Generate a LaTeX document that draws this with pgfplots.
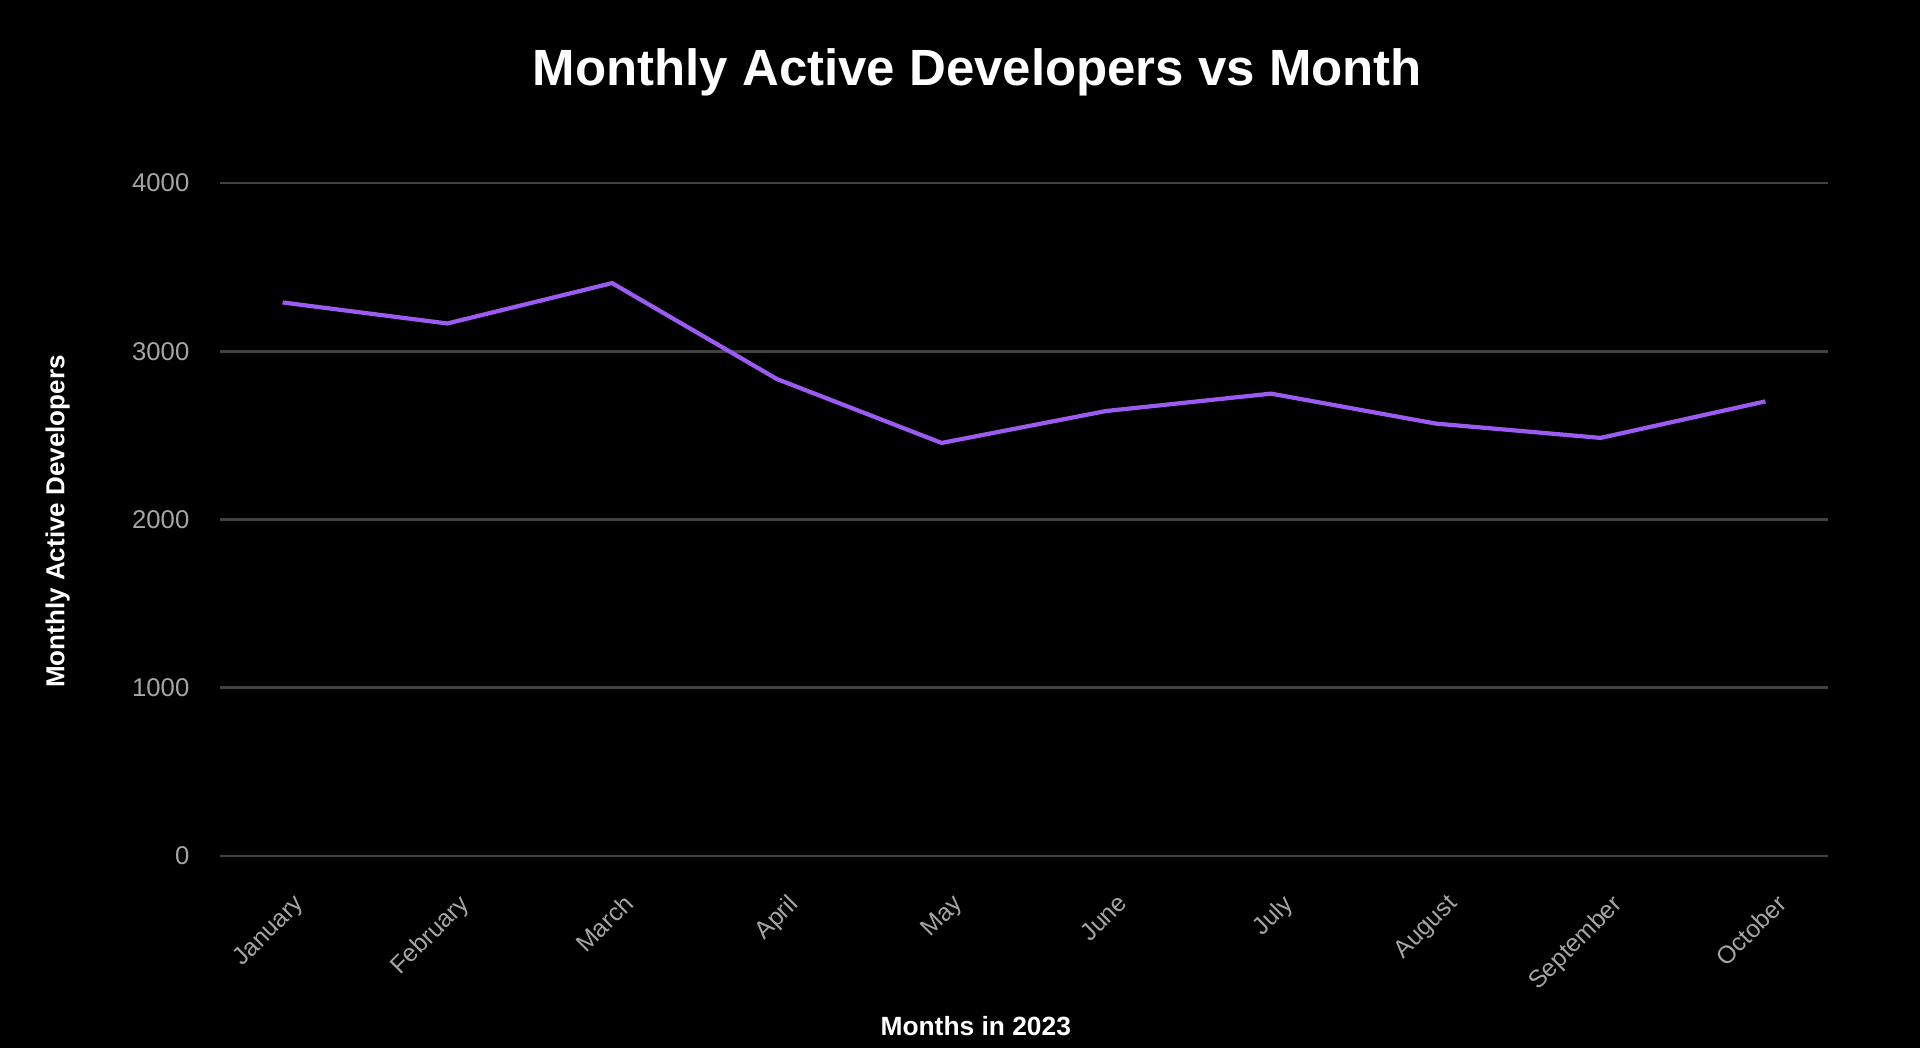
\documentclass[border=0pt]{standalone}
\usepackage{pgfplots}
\pgfplotsset{compat=1.18}
\usepackage{fontspec}
\setmainfont{Liberation Sans}
\definecolor{linec}{RGB}{155,90,240}
\definecolor{gridc}{RGB}{66,66,66}
\definecolor{tickc}{RGB}{165,165,165}
\begin{document}
\begin{tikzpicture}
\fill[black] (0,0) rectangle (19.2cm,10.48cm);
\useasboundingbox (0,0) rectangle (19.2cm,10.48cm);
\begin{axis}[
  at={(2.20cm,1.92cm)}, anchor=south west,
  width=16.08cm, height=6.73cm, scale only axis,
  xmin=-0.38, xmax=9.38, ymin=0, ymax=4000,
  axis line style={draw=none},
  major tick length=0pt,
  ymajorgrids, grid style={gridc, line width=0.8pt},
  ytick={0,1000,2000,3000,4000},
  yticklabels={0,1000,2000,3000,4000},
  xtick={0,1,2,3,4,5,6,7,8,9},
  xticklabels={January,February,March,April,May,June,July,August,September,October},
  yticklabel style={anchor=east, inner sep=0pt, xshift=-0.3cm, font=\fontsize{7.3}{8}\selectfont, color=tickc},
  xticklabel style={xshift=0.10cm, yshift=-0.36cm, rotate=45, anchor=north east, inner sep=0pt, font=\fontsize{7}{8}\selectfont, color=tickc},
  title={Monthly Active Developers vs Month},
  title style={at={(rel axis cs:0.471,1.114)}, anchor=base, font=\fontsize{14.5}{17}\selectfont\bfseries, color=white},
  xlabel={Months in 2023},
  xlabel style={at={(rel axis cs:0.47,-0.266)}, anchor=base, font=\fontsize{7.5}{9}\selectfont\bfseries, color=white},
  ylabel={Monthly Active Developers},
  ylabel style={at={(rel axis cs:-0.101,0.497)}, anchor=center, rotate=0, font=\fontsize{7.4}{9}\selectfont\bfseries, color=white},
  clip=false,
]
\addplot[color=linec, line width=1.2pt, line join=round, mark=none] coordinates {
  (0,3290) (1,3165) (2,3405) (3,2835) (4,2455) (5,2645) (6,2748) (7,2570) (8,2485) (9,2702)
};
\end{axis}
\end{tikzpicture}
\end{document}
